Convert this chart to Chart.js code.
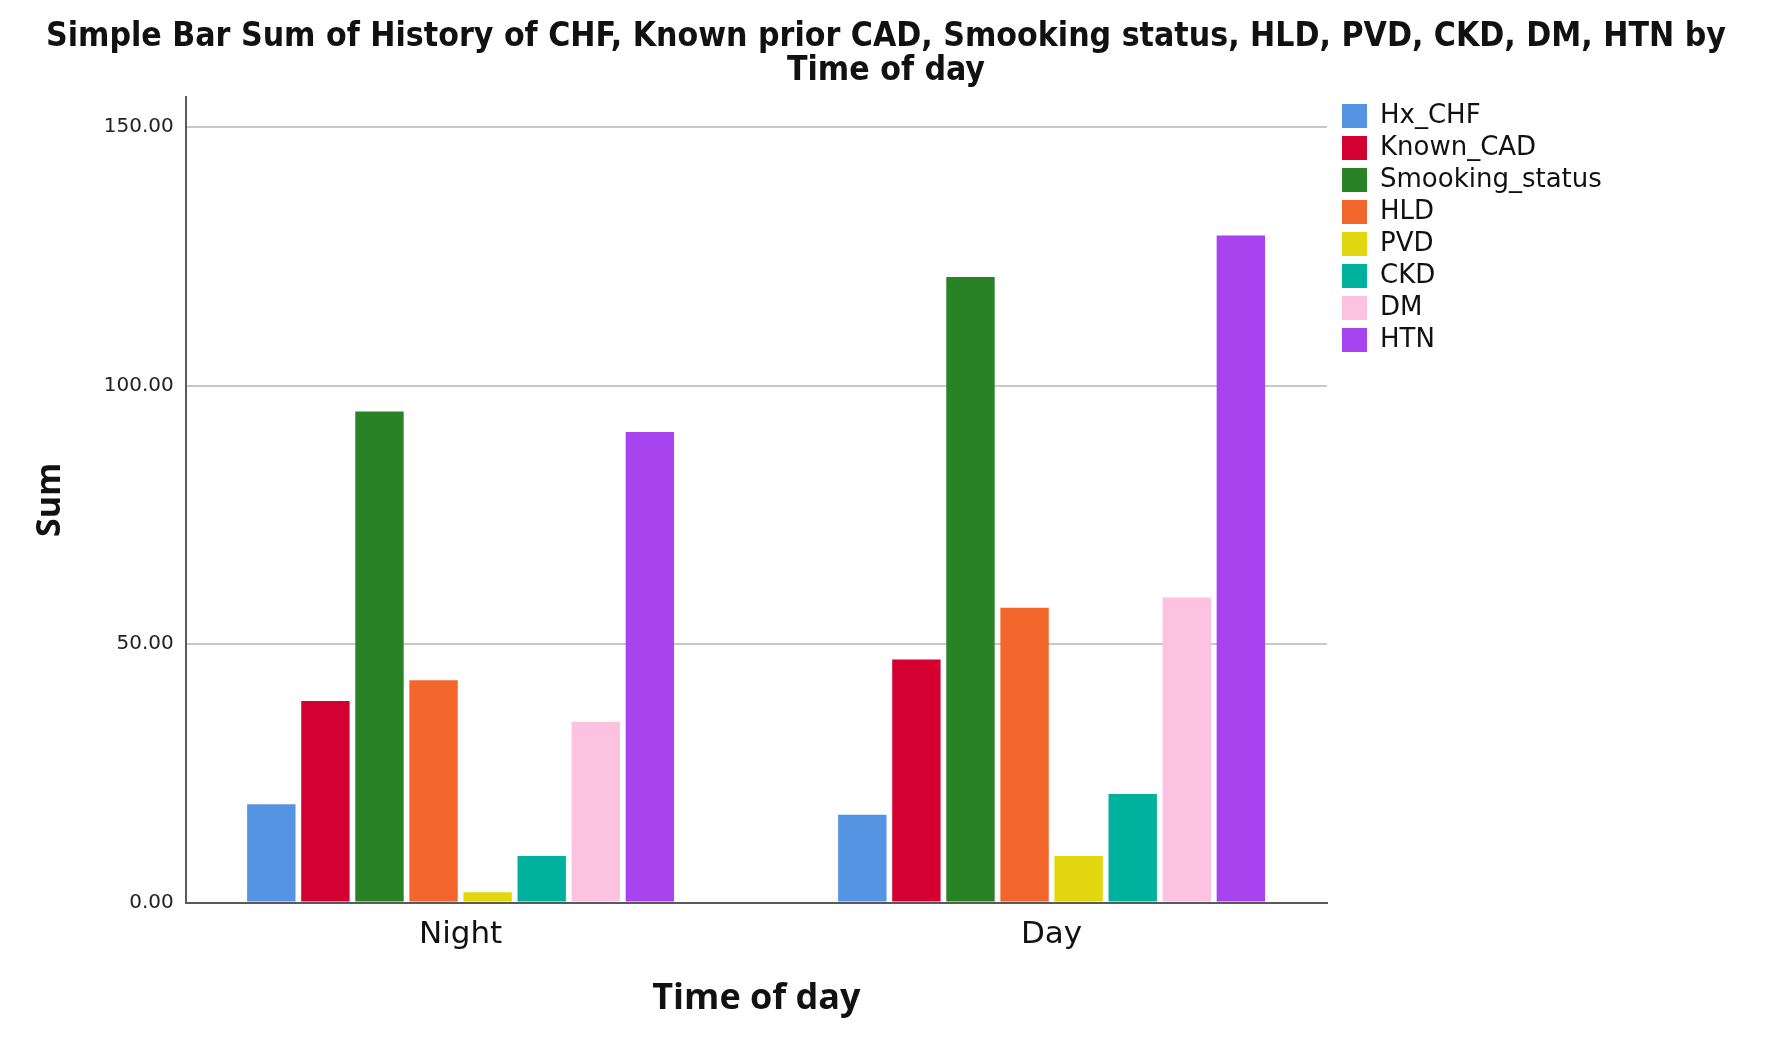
<!DOCTYPE html>
<html>
<head>
<meta charset="utf-8">
<title>Simple Bar Sum by Time of day</title>
<script src="https://cdn.jsdelivr.net/npm/chart.js@4.4.1/dist/chart.umd.min.js"></script>
<style>
  html, body { margin: 0; padding: 0; background: #fff; }
  #wrap { width: 1772px; height: 1043px; }
</style>
</head>
<body>
<div id="wrap"><canvas id="chart"></canvas></div>
<script>
// Categories and series
const categories = ['Night', 'Day'];
const seriesNames = ['Hx_CHF', 'Known_CAD', 'Smooking_status', 'HLD', 'PVD', 'CKD', 'DM', 'HTN'];
const hxChf = [19, 17];
const knownCad = [39, 47];
const smookingStatus = [95, 121];
const hld = [43, 57];
const pvd = [2, 9];
const ckd = [9, 21];
const dm = [35, 59];
const htn = [91, 129];
const yTicks = [0, 50, 100, 150];

const seriesColors = ['#5594e3', '#d50032', '#2a8226', '#f2652b', '#e2d60e', '#00b29e', '#fdc2e0', '#a843f0'];

const LEGEND_WIDTH = 445;
const LEGEND_SHIFT = 9;

// Fixed legend column so the plot area ends where the reference does
const legendPlacement = {
    id: 'legendPlacement',
    afterInit(chart) {
        const legend = chart.legend;
        if (!legend) return;
        const fit = legend.fit;
        legend.fit = function () {
            fit.call(this);
            this.width = LEGEND_WIDTH;
        };
    },
    afterLayout(chart) {
        if (!chart.legend) return;
        chart.legend.left += LEGEND_SHIFT;
        chart.legend.right += LEGEND_SHIFT;
    }
};

const allSeries = [hxChf, knownCad, smookingStatus, hld, pvd, ckd, dm, htn];

const datasets = allSeries.map((values, k) => ({
    label: seriesNames[k],
    data: values.map((v, i) => ({ x: i, y: v })),
    backgroundColor: seriesColors[k],
    borderWidth: 0,
    categoryPercentage: 0.732,
    barPercentage: 0.895
}));

const ctx = document.getElementById('chart').getContext('2d');

new Chart(ctx, {
    type: 'bar',
    data: { datasets: datasets },
    options: {
        responsive: true,
        maintainAspectRatio: false,
        devicePixelRatio: 1,
        animation: false,
        layout: {
            padding: { left: 0, right: 0, top: 0, bottom: 10 }
        },
        scales: {
            x: {
                type: 'linear',
                offset: false,
                min: -0.465,
                max: 1.466,
                afterBuildTicks: scale => {
                    scale.ticks = categories.map((c, i) => ({ value: i }));
                },
                grid: { display: false, drawTicks: false, offset: false },
                border: { display: true, color: '#5a5a5a', width: 2 },
                ticks: {
                    padding: 14,
                    color: '#111',
                    font: { family: 'DejaVu Sans', size: 31 },
                    callback: value => categories[value]
                },
                title: {
                    display: true,
                    text: 'Time of day',
                    color: '#111',
                    font: { family: 'Open Sans', size: 36, weight: 'bold' },
                    padding: { top: 9, bottom: 13 }
                }
            },
            y: {
                min: 0,
                max: 155.8,
                afterBuildTicks: scale => {
                    scale.ticks = yTicks.map(v => ({ value: v }));
                },
                grid: {
                    drawTicks: false,
                    lineWidth: 2,
                    color: c => (c.tick && c.tick.value === 0 ? 'rgba(0,0,0,0)' : '#c8c8c8')
                },
                border: { display: true, color: '#5a5a5a', width: 2 },
                ticks: {
                    padding: 12,
                    color: '#222',
                    font: { family: 'DejaVu Sans', size: 20 },
                    callback: value => Number(value).toFixed(2)
                },
                title: {
                    display: true,
                    text: 'Sum',
                    color: '#111',
                    font: { family: 'Open Sans', size: 34, weight: 'bold' },
                    padding: { top: 30, bottom: 21 }
                }
            }
        },
        plugins: {
            title: {
                display: true,
                text: ['Simple Bar Sum of History of CHF, Known prior CAD, Smooking status, HLD, PVD, CKD, DM, HTN by', 'Time of day'],
                color: '#111',
                font: { family: "'DejaVu Sans Condensed', sans-serif", size: 33.5, weight: 'bold', lineHeight: 1.03 },
                padding: { top: 20, bottom: 8 }
            },
            legend: {
                position: 'right',
                align: 'start',
                fullSize: false,
                labels: {
                    boxWidth: 25,
                    boxHeight: 24,
                    padding: 6,
                    color: '#111',
                    font: { family: 'DejaVu Sans', size: 26 }
                }
            },
            tooltip: { enabled: false }
        }
    },
    plugins: [legendPlacement]
});
</script>
</body>
</html>
